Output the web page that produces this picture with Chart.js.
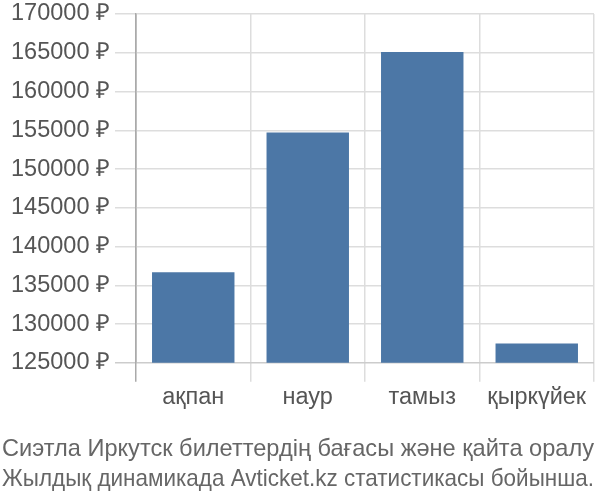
<!DOCTYPE html>
<html>
<head>
<meta charset="utf-8">
<script src="https://cdn.jsdelivr.net/npm/chart.js@4/dist/chart.umd.min.js"></script>
<style>
  html, body { margin: 0; padding: 0; background: #fff; }
  #wrap { width: 600px; height: 500px; }
</style>
</head>
<body>
<div id="wrap"><canvas id="chart" width="600" height="500"></canvas></div>
<script>
// ── Data ──────────────────────────────────────────────────────────────────────
const months = ["ақпан", "наур", "тамыз", "қыркүйек"];
const prices = [136700, 154700, 165100, 127500];
const yMin   = 125000;
const yMax   = 170000;
const yStep  = 5000;
const titleLines = [
  "Сиэтла Иркутск билеттердің бағасы және қайта оралу",
  "Жылдық динамикада Avticket.kz статистикасы бойынша."
];

const FONT = "'Liberation Sans', Arial, sans-serif";

new Chart(document.getElementById("chart"), {
  type: "bar",
  data: {
    labels: months,
    datasets: [{
      data:            prices,
      backgroundColor: "#4c77a6",
      borderWidth:     0,
      barPercentage:   0.72,
      categoryPercentage: 1
    }]
  },
  options: {
    responsive: false,
    animation:  false,
    layout: { padding: { top: 0, right: 6, left: 2, bottom: 6 } },
    plugins: {
      legend:  { display: false },
      tooltip: { enabled: false },
      title: {
        display:  true,
        text:     titleLines,
        position: "bottom",
        align:    "start",
        color:    "#666",
        font:     { family: FONT, size: 23.8, weight: "normal", lineHeight: 1.26 },
        padding:  { top: 20, bottom: 0 }
      }
    },
    scales: {
      x: {
        offset: true,
        grid: {
          offset: true,
          color: ctx => ctx.index === 0 ? "#aaa" : "#ddd",
          lineWidth: 1.5,
          tickLength: 19
        },
        border: { display: false },
        ticks: { color: "#555", font: { family: FONT, size: 23.5 }, padding: 2 }
      },
      y: {
        min: yMin,
        max: yMax,
        afterFit: scale => {
          scale.width = 134;
          scale.paddingTop = 14;   // top tick sits at y≈14 like the original
        },
        grid: {
          color: ctx => ctx.index === 0 ? "#ccc" : "#ddd",
          lineWidth: 1.5,
          tickLength: 21
        },
        border: { color: "#aaa", width: 1.5 },
        ticks: {
          stepSize: yStep,
          color: "#555",
          font: { family: FONT, size: 23.5 },
          padding: 5,
          callback: v => v + " ₽"
        }
      }
    }
  }
});
</script>
</body>
</html>
